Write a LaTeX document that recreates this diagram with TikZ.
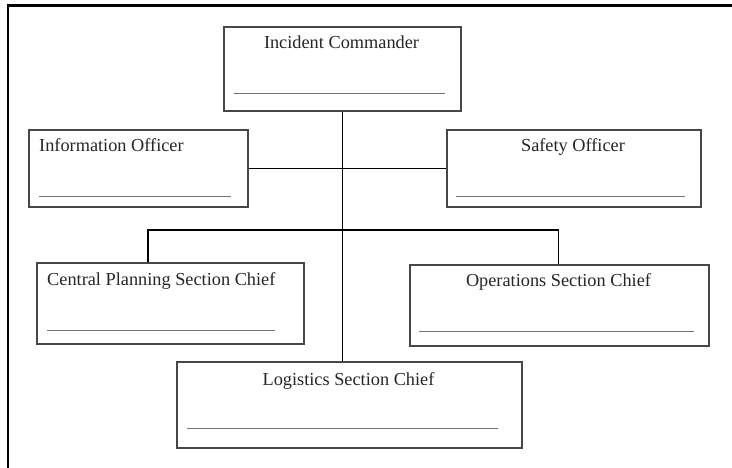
\documentclass[tikz,border=0pt]{standalone}
\usepackage{fontspec}
\setmainfont{Liberation Serif}
\begin{document}
\begin{tikzpicture}[x=1pt,y=-1pt,
  box/.style={draw=black!72, line width=1.6pt, inner sep=0pt, anchor=north west, fill=white},
  lbl/.style={inner sep=0pt, font=\fontsize{18.3}{20}\selectfont, text=black!85},
  blank/.style={draw=black!55, line width=1pt},
  conn/.style={draw=black, line width=1.3pt},
  frameline/.style={draw=black, line width=2.2pt}]
  % canvas
  \fill[white] (0,0) rectangle (732,468);
  \useasboundingbox (0,0) rectangle (732,468);

  % page frame (top and left edges)
  \coordinate (fr1) at (8.3,468);
  \coordinate (fr2) at (8.3,5.5);
  \coordinate (fr3) at (732,5.5);
  \draw[frameline] (fr1) -- (fr2) -- (fr3);

  % connectors
  \coordinate (busl) at (148,230);
  \coordinate (busr) at (558.5,230);

  % boxes
  \node[box, minimum width=237pt, minimum height=84pt] (ic) at (223,26) {};
  \node[box, minimum width=219pt, minimum height=77pt] (info) at (28,129) {};
  \node[box, minimum width=254pt, minimum height=77pt] (safety) at (446,129) {};
  \node[box, minimum width=267pt, minimum height=81pt] (cp) at (36,262) {};
  \node[box, minimum width=299pt, minimum height=81pt] (ops) at (409,264) {};
  \node[box, minimum width=345pt, minimum height=86pt] (log) at (176,361) {};

  \draw[conn] (ic.south) -- (ic.south |- log.north);
  \draw[conn] (info.east) -- (info.east -| safety.west);
  \draw[conn] (busl |- cp.north) -- (busl) -- (busr) -- (busr |- ops.north);

  % titles
  \node[lbl, anchor=base] (ict) at (341.5,49) {Incident Commander};
  \node[lbl, anchor=base west] (infot) at (39,152) {Information Officer};
  \node[lbl, anchor=base] (safetyt) at (573,152) {Safety Officer};
  \node[lbl, anchor=base west] (cpt) at (47,286) {Central Planning Section Chief};
  \node[lbl, anchor=base] (opst) at (558.5,287) {Operations Section Chief};
  \node[lbl, anchor=base] (logt) at (348.5,385) {Logistics Section Chief};

  % name lines
  \draw[blank] (234,94) -- (445,94);
  \draw[blank] (39,197) -- (231,197);
  \draw[blank] (456,197) -- (685,197);
  \draw[blank] (47,330) -- (275,330);
  \draw[blank] (419,331) -- (694,331);
  \draw[blank] (187,428) -- (498,428);
\end{tikzpicture}
\end{document}
